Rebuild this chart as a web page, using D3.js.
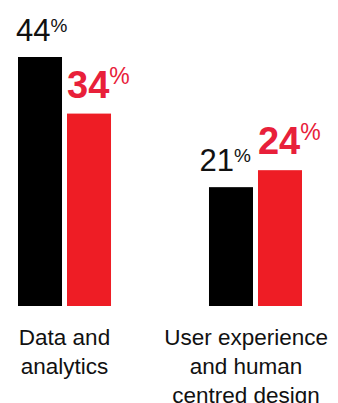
<!DOCTYPE html>
<html>
<head>
<meta charset="utf-8">
<script src="https://cdn.jsdelivr.net/npm/d3@7"></script>
<style>
  html, body { margin: 0; padding: 0; background: #fff; }
  svg { display: block; font-family: "Liberation Sans", Arial, Helvetica, sans-serif; }
</style>
</head>
<body>
<div id="chart"></div>
<script>
// Chart data
const categories = ['Data and analytics', 'User experience and human centred design'];
const categoryLines = [['Data and', 'analytics'], ['User experience', 'and human', 'centred design']];
const seriesNames = ['black', 'red'];
const seriesValues = [
    [44, 21],   // black series
    [34, 24]    // red series
];
const seriesColors = ['#000000', '#ee1d25'];
const labelColors = ['#111111', '#e8203a'];

const width = 338;
const height = 403;
const baseline = 306;

const svg = d3.select('#chart')
    .append('svg')
    .attr('width', width)
    .attr('height', height);

// Scales
const x0 = d3.scaleBand()
    .domain(categories)
    .range([18, 302])
    .paddingInner(0.513)
    .paddingOuter(0);

const x1 = d3.scaleBand()
    .domain(seriesNames)
    .range([0, x0.bandwidth()])
    .paddingInner(0.102)
    .paddingOuter(0);

const y = d3.scaleLinear()
    .domain([0, 44])
    .range([baseline, 57]);

// Flatten into bar records
const bars = [];
categories.forEach((cat, ci) => {
    seriesNames.forEach((s, si) => {
        bars.push({ cat, ci, s, si, value: seriesValues[si][ci] });
    });
});

// Bars
svg.append('g')
    .selectAll('rect')
    .data(bars)
    .enter()
    .append('rect')
    .attr('x', d => x0(d.cat) + x1(d.s))
    .attr('y', d => y(d.value))
    .attr('width', x1.bandwidth())
    .attr('height', d => y(0) - y(d.value))
    .attr('fill', d => seriesColors[d.si]);

// Value labels with superscript %
const labels = svg.append('g')
    .selectAll('text')
    .data(bars)
    .enter()
    .append('text')
    .attr('x', d => x0(d.cat) + x1(d.s) + (d.si === 0 ? -2 : 0))
    .attr('y', d => y(d.value) - 16)
    .attr('fill', d => labelColors[d.si]);

labels.append('tspan')
    .attr('font-size', d => d.si === 0 ? 31 : 38)
    .attr('font-weight', d => d.si === 0 ? 'normal' : 'bold')
    .text(d => d.value);

labels.append('tspan')
    .attr('font-size', d => d.si === 0 ? 19 : 23)
    .attr('dy', d => d.si === 0 ? -9 : -14)
    .text('%');

// Keep black label clear of the neighbouring red one
labels.each(function(d) {
    if (d.si !== 0) return;
    const next = labels.filter(e => e.ci === d.ci && e.si === 1).node();
    const a = this.getBBox();
    const b = next.getBBox();
    const overlapY = a.y < b.y + b.height && b.y < a.y + a.height;
    if (overlapY && a.x + a.width > b.x - 4) {
        const barRight = x0(d.cat) + x1(d.s) + x1.bandwidth();
        d3.select(this).attr('text-anchor', 'end').attr('x', barRight - 2);
    }
});

// Category labels
const catLabels = svg.append('g')
    .selectAll('text')
    .data(categories)
    .enter()
    .append('text')
    .attr('text-anchor', 'middle')
    .attr('font-size', 22.5)
    .attr('fill', '#111')
    .attr('x', d => x0(d) + x0.bandwidth() / 2)
    .attr('y', 345);

catLabels.selectAll('tspan')
    .data((d, i) => categoryLines[i])
    .enter()
    .append('tspan')
    .attr('x', function() { return this.parentNode.getAttribute('x'); })
    .attr('dy', (d, i) => i === 0 ? 0 : 29)
    .text(d => d);

// Nudge labels back inside the right edge
catLabels.each(function() {
    const bb = this.getBBox();
    const over = bb.x + bb.width - (width - 10);
    if (over > 0) {
        const nx = +this.getAttribute('x') - over;
        d3.select(this).attr('x', nx).selectAll('tspan').attr('x', nx);
    }
});
</script>
</body>
</html>
